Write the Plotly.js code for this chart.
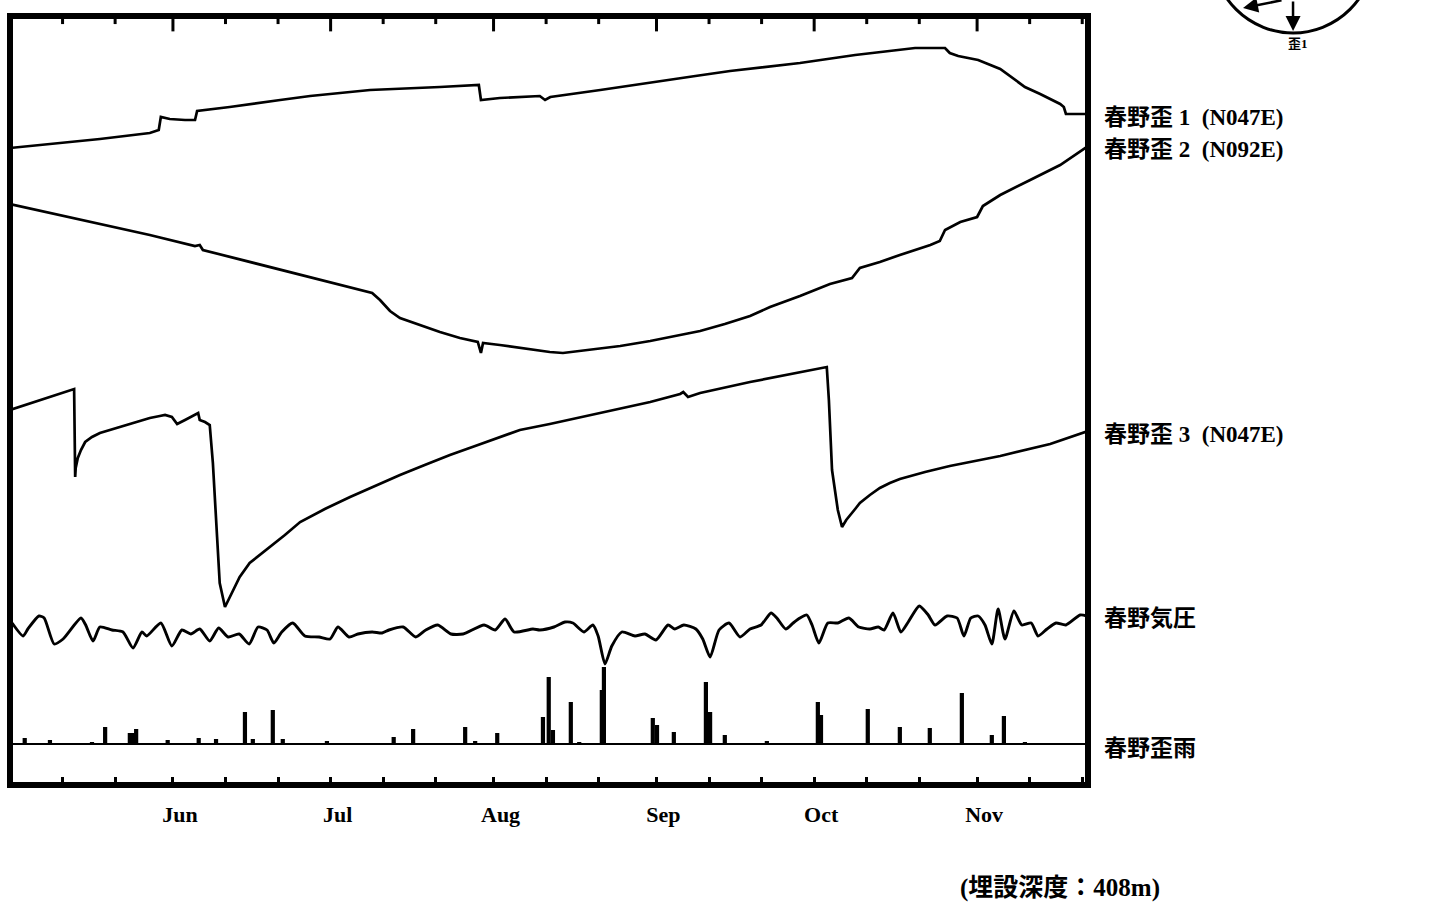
<!DOCTYPE html>
<html><head><meta charset="utf-8">
<script src="https://cdn.plot.ly/plotly-3.0.1.min.js"></script>
<style>html,body{margin:0;padding:0;background:#fff}#chart{width:1431px;height:903px}</style>
</head><body><div id="chart"></div>
<script>
// x values: days since 1 May
const monthDays  = [31, 61, 92, 123, 153, 184];
const monthNames = ['Jun', 'Jul', 'Aug', 'Sep', 'Oct', 'Nov'];
const tenDayTicks = [10, 20, 41, 51, 71, 81, 102, 112, 133, 143, 163, 173, 194, 204];

// 春野歪1 (N047E) relative strain
const s1Day = [0,7.6,17.1,26.6,28.3,28.7,30.4,33.3,35.2,35.6,41.8,51.4,57.1,68.5,74.2,81.8,89.2,89.6,93.2,100.8,101.8,102.8,112.3,121.8,130.4,137.0,150.3,160.8,165.5,172.2,177.9,178.8,180.4,184.2,188.4,190.3,193.1,196.0,199.8,200.5,200.9,205.1];
const s1Val = [0,4,9,15,18,31,29,28,28,37,41,48,52,58,59,61,63,48,50,52,48,51,58,65,72,77,85,93,96,100,100,95,92,88,79,72,61,54,44,41,34,34];

// 春野歪2 (N092E)
const s2Day = [0,7.6,17.1,26.6,35.2,36.1,36.7,45.7,55.2,64.7,68.9,70.4,72.3,74.2,78.0,81.8,85.6,89.0,89.6,90.0,93.2,97.0,102.7,105.2,108.4,112.3,116.1,121.8,126.5,131.3,136.0,140.8,144.6,150.3,156.0,160.2,161.7,165.5,169.3,175.1,176.9,177.9,180.8,184.0,185.1,188.4,194.1,199.8,205.1];
const s2Val = [0,-9,-20,-31,-42,-41,-46,-58,-70,-83,-89,-96,-107,-114,-121,-128,-134,-138,-149,-139,-141,-144,-148,-149,-147,-145,-142,-137,-132,-127,-120,-112,-103,-92,-80,-74,-64,-58,-51,-41,-37,-26,-18,-13,-2,9,24,39,58];

// 春野歪3 (N047E)
const s3Day = [0,12.2,12.4,12.5,12.9,13.5,14.3,15.6,17.1,19.0,20.9,23.8,26.6,28.5,29.5,30.8,31.8,33.3,35.8,36.1,37.1,38.0,38.6,39.4,39.9,40.9,41.8,42.8,43.7,45.6,47.5,49.5,52.3,55.2,59.9,64.7,69.4,74.2,78.9,83.7,88.5,93.2,97.0,102.7,112.3,121.8,127.5,128.1,129.0,131.3,140.8,150.3,155.4,155.8,156.4,157.5,158.3,159.1,159.8,160.8,161.7,163.6,165.5,167.4,169.3,174.1,178.8,183.6,188.4,197.9,205.1];
const s3Val = [0,21,-67,-58,-48,-40,-32,-27,-23,-20,-17,-12,-8,-6,-5,-7,-14,-10,-3,-10,-12,-15,-53,-127,-173,-197,-187,-177,-167,-153,-145,-137,-125,-112,-99,-87,-76,-65,-55,-45,-36,-27,-20,-14,-3,8,16,18,13,17,28,38,43,10,-60,-100,-117,-110,-105,-99,-93,-85,-78,-73,-69,-62,-56,-51,-46,-34,-21];

// 春野気圧 (hPa)
const pDay = [0.4,2.5,3.4,5.5,6.5,8.4,10.1,13.5,14.4,15.8,17.1,19.4,21.5,23.4,25.1,26.0,28.7,30.8,32.7,34.4,36.1,38.0,39.7,41.5,43.6,45.5,47.2,48.9,50.2,51.7,53.8,56.1,58.8,60.9,62.4,64.5,66.2,68.9,70.8,72.1,74.8,77.2,79.1,81.4,83.9,86.2,90.2,92.3,94.2,95.9,99.5,100.8,103.5,105.6,107.1,109.2,110.9,111.9,113.2,114.5,116.4,118.9,120.8,122.9,125.2,126.5,128.2,130.5,131.8,133.2,134.9,136.8,138.9,140.8,142.9,144.8,145.9,147.6,149.0,150.3,151.6,152.6,153.9,155.6,157.5,159.6,161.5,163.6,165.2,166.3,168.0,169.5,170.9,173.0,174.7,176.0,178.3,180.2,181.5,182.8,184.2,185.5,186.8,188.0,189.3,191.0,192.5,194.3,195.6,197.3,199.0,200.9,203.6,204.9];
const pVal = [1013.5,1007,1010.5,1017,1016,1003,1005.5,1016,1012.5,1004.5,1011.5,1010,1009,1001,1009,1007,1013.5,1002,1010,1008,1010.5,1004.5,1011,1006.5,1008,1003,1011.5,1010,1003.5,1009,1013.5,1007,1006.5,1005.5,1011.5,1006.5,1008,1009,1008.5,1010,1011.5,1006.5,1010,1012.5,1008,1008,1012.5,1010,1015.5,1009,1010.5,1010,1011.5,1014,1013.5,1009,1012.5,1007,993,1002,1009,1007,1008,1005,1012.5,1010.5,1012.5,1010.5,1005.5,996.5,1010,1013.5,1006.5,1010.5,1012.5,1018.5,1016,1010.5,1013.5,1016,1017.5,1012.5,1003.5,1013.5,1013.5,1016,1011.5,1010.5,1011.5,1010,1018.5,1009,1014,1022,1017.5,1012.5,1017,1016,1007,1016,1017,1012.5,1003,1020.5,1005.5,1019.5,1012.5,1013.5,1007,1010.5,1013.5,1012.5,1017.5,1017];

// 春野歪雨 (mm/h)
const rDay = [2.8,7.6,15.6,18.1,22.8,23.4,24.0,30.0,35.9,39.2,44.7,46.2,50.0,51.9,60.3,73.0,76.7,86.6,88.5,92.7,101.4,102.5,103.3,106.7,108.3,112.6,113.0,122.3,123.1,126.3,132.4,133.2,136.0,144.0,153.7,154.3,163.2,169.3,175.0,181.1,186.8,189.1,193.1];
const rVal = [1.5,1.0,0.5,4.25,2.75,2.75,3.75,1.0,1.5,1.25,8.0,1.25,8.5,1.25,0.75,1.75,3.75,4.25,0.75,2.75,6.75,16.75,3.5,10.5,0.5,13.5,19.25,6.5,4.75,3.0,15.5,8.0,2.25,0.75,10.5,7.25,8.75,4.25,4.0,12.75,2.25,7.0,0.5];

const labelText = ['春野歪 1\u00a0\u00a0(N047E)', '春野歪 2\u00a0\u00a0(N092E)', '春野歪 3\u00a0\u00a0(N047E)', '春野気圧', '春野歪雨'];

const lineStyle = {color: '#000', width: 2.7};
const traces = [
  {x: s1Day, y: s1Val, type: 'scatter', mode: 'lines', line: lineStyle, xaxis: 'x', yaxis: 'y', hoverinfo: 'skip'},
  {x: s2Day, y: s2Val, type: 'scatter', mode: 'lines', line: lineStyle, xaxis: 'x', yaxis: 'y2', hoverinfo: 'skip'},
  {x: s3Day, y: s3Val, type: 'scatter', mode: 'lines', line: lineStyle, xaxis: 'x', yaxis: 'y3', hoverinfo: 'skip'},
  {x: pDay, y: pVal, type: 'scatter', mode: 'lines', line: {color: '#000', width: 2.9, shape: 'spline', smoothing: 0.6}, xaxis: 'x', yaxis: 'y4', hoverinfo: 'skip'},
  {x: rDay, y: rVal, type: 'bar', width: 0.8, marker: {color: '#000', line: {width: 0}}, xaxis: 'x', yaxis: 'y5', hoverinfo: 'skip'}
];

const serif = 'Liberation Serif, Noto Sans CJK JP, serif';
const xr = [0, 205.1];
const hidden = {visible: false, overlaying: 'y', domain: [0, 1], anchor: 'x'};

// tick marks on the top edge: long at month starts, short at 11th and 21st
const topTick = (d, len) => ({type: 'line', xref: 'x', yref: 'paper', x0: d, x1: d, y0: 1, y1: 1 - len,
  line: {color: '#000', width: 3}, layer: 'above'});
const topTicks = monthDays.map(d => topTick(d, 0.020)).concat(tenDayTicks.map(d => topTick(d, 0.0105)));

const layout = {
  width: 1431, height: 903,
  margin: {l: 10, r: 343, t: 16, b: 118},
  paper_bgcolor: '#fff', plot_bgcolor: '#fff',
  showlegend: false,
  font: {family: serif, color: '#000'},
  xaxis: {
    range: xr, showgrid: false, zeroline: false, showline: false, anchor: 'y',
    tickmode: 'array', tickvals: monthDays, ticktext: monthNames,
    ticks: 'inside', ticklen: 8, tickwidth: 3, tickcolor: '#000',
    tickfont: {family: serif, size: 22, color: '#000', weight: 'bold'},
    ticklabelstandoff: 14, ticklabelshift: 7,
    minor: {tickmode: 'array', tickvals: tenDayTicks, ticks: 'inside', ticklen: 8, tickwidth: 3, tickcolor: '#000', showgrid: false}
  },
  yaxis: {range: [-637, 132], domain: [0, 1], anchor: 'x', showgrid: false, zeroline: false, showline: false, showticklabels: false, ticks: ''},
  yaxis2: Object.assign({range: [-581, 188]}, hidden),
  yaxis3: Object.assign({range: [-375, 394]}, hidden),
  yaxis4: Object.assign({range: [932.5, 1317]}, hidden),
  yaxis5: {range: [-10.25, 182], overlaying: 'y', domain: [0, 1], anchor: 'x',
    showgrid: false, showticklabels: false, ticks: '', showline: false,
    zeroline: true, zerolinecolor: '#000', zerolinewidth: 2},
  shapes: [
    {type: 'rect', xref: 'paper', yref: 'paper', x0: 0, x1: 1, y0: 0, y1: 1, line: {color: '#000', width: 6}, layer: 'above'},
    {type: 'circle', xref: 'paper', yref: 'paper', x0: 1.1155, x1: 1.2649, y0: 0.9779, y1: 1.1873, line: {color: '#000', width: 3}}
  ].concat(topTicks),
  annotations: [
    {text: labelText[0], x: 1.0130, y: 0.8674},
    {text: labelText[1], x: 1.0130, y: 0.8270},
    {text: labelText[2], x: 1.0130, y: 0.4564},
    {text: labelText[3], x: 1.0130, y: 0.2159},
    {text: labelText[4], x: 1.0130, y: 0.0481}
  ].map(a => Object.assign({xref: 'paper', yref: 'paper', xanchor: 'left', yanchor: 'middle', showarrow: false,
      font: {family: serif, size: 23, color: '#000', weight: 'bold'}}, a)).concat([
    {text: '(埋設深度：408m)', x: 0.974, y: -0.1339, xref: 'paper', yref: 'paper', xanchor: 'center', yanchor: 'middle', showarrow: false,
      font: {family: serif, size: 25, color: '#000', weight: 'bold'}},
    {text: '歪1', x: 1.1948, y: 0.9636, xref: 'paper', yref: 'paper', xanchor: 'center', yanchor: 'middle', showarrow: false,
      font: {family: serif, size: 13, color: '#000', weight: 'bold'}},
    {text: '', x: 1.1902, y: 0.9805, xref: 'paper', yref: 'paper', showarrow: true, ax: 0, ay: -60,
      arrowhead: 2, arrowsize: 1.2, arrowwidth: 2.5, arrowcolor: '#000'},
    {text: '', x: 1.1438, y: 1.0104, xref: 'paper', yref: 'paper', showarrow: true, ax: 40, ay: -40,
      arrowhead: 2, arrowsize: 1.2, arrowwidth: 2.5, arrowcolor: '#000'}
  ])
};

Plotly.newPlot('chart', traces, layout, {staticPlot: true, displayModeBar: false});
</script>
</body></html>
